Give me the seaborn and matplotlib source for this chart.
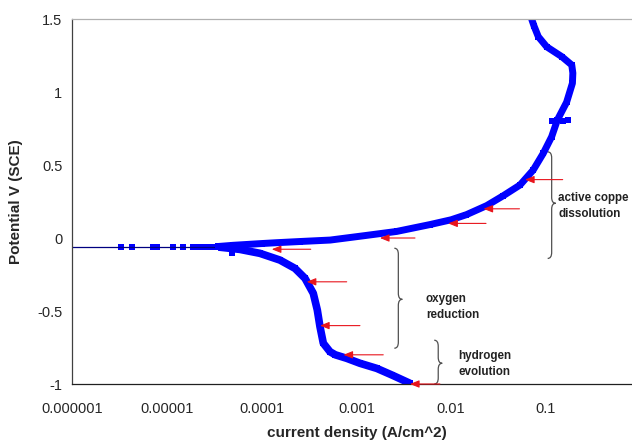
import matplotlib
matplotlib.use("Agg")
import matplotlib.pyplot as plt
from matplotlib.path import Path
from matplotlib.patches import PathPatch
import pandas as pd
import seaborn as sns

# cathodic branch (bottom of the scan up to the corrosion potential)
cath_i = [0.00367, 0.0024, 0.00164, 0.00109, 0.00079, 0.00060, 0.000527, 0.000448,
          0.000413, 0.000387, 0.000351, 0.000287, 0.000225, 0.000156, 0.000096,
          0.000059, 0.000035]
cath_e = [-0.995, -0.94, -0.893, -0.858, -0.824, -0.80, -0.779, -0.721,
          -0.607, -0.493, -0.379, -0.276, -0.208, -0.151, -0.105,
          -0.078, -0.062]

# anodic branch (corrosion potential up to 1.5 V)
anod_i = [0.000035, 0.00005, 0.0001, 0.000145, 0.000254, 0.00053, 0.00118, 0.00266,
          0.00597, 0.0100, 0.0145, 0.0237, 0.0355, 0.0532, 0.0734, 0.0936, 0.1148, 0.1318,
          0.165, 0.19, 0.192, 0.187, 0.147, 0.1016, 0.083, 0.075, 0.0706]
anod_e = [-0.058, -0.05, -0.038, -0.032, -0.024, -0.014, 0.015, 0.045,
          0.092, 0.125, 0.160, 0.222, 0.29, 0.363, 0.466, 0.58, 0.694, 0.808,
          0.93, 1.06, 1.13, 1.185, 1.242, 1.31, 1.379, 1.45, 1.5]

# loose points (low current tail + a few stray ones)
tail_i = [3.27e-6, 4.33e-6, 7.21e-6, 7.94e-6, 1.15e-5, 1.49e-5, 1.9e-5, 2.03e-5,
          2.28e-5, 2.43e-5, 2.64e-5, 2.81e-5, 2.98e-5, 3.15e-5, 3.36e-5, 4.9e-5,
          0.117, 0.15, 0.172]
tail_e = [-0.062, -0.062, -0.062, -0.062, -0.062, -0.062, -0.062, -0.062,
          -0.062, -0.062, -0.062, -0.062, -0.062, -0.062, -0.062, -0.105,
          0.80, 0.80, 0.81]

thin_i = [1e-6, 3.5e-5]
thin_e = [-0.063, -0.063]

# red arrows
arrow_e = [0.4, 0.2, 0.1, 0.0, -0.077, -0.3, -0.6, -0.8, -1.0]
arrow_tip = [0.060, 0.0219, 0.0093, 0.00177, 0.000128, 0.000299, 0.000413, 0.00073, 0.00367]
arrow_tail = [0.15, 0.0525, 0.0233, 0.00415, 0.00033, 0.00079, 0.00109, 0.00192, 0.0076]

# braces and their notes
brace_x = [0.1148, 0.00277, 0.0073]
brace_top = [0.59, -0.07, -0.70]
brace_mid = [0.238, -0.42, -0.858]
brace_bot = [-0.14, -0.755, -1.0]
notes = ["active coppe\ndissolution", "oxygen\nreduction", "hydrogen\nevolution"]
note_x = [0.134, 0.00542, 0.0119]
note_y = [0.222, -0.472, -0.864]

xticks = [1e-6, 1e-5, 1e-4, 1e-3, 1e-2, 1e-1]
xticklabels = ["0.000001", "0.00001", "0.0001", "0.001", "0.01", "0.1"]
yticks = [-1, -0.5, 0, 0.5, 1, 1.5]
yticklabels = ["-1", "-0.5", "0", "0.5", "1", "1.5"]

sns.set_style("white")
plt.rcParams['font.family'] = ['Liberation Sans', 'DejaVu Sans']

fig = plt.figure(figsize=(6.32, 4.42), dpi=100)
ax = fig.add_axes([0.1139, 0.1312, 0.9, 0.8258])

blue = "#0000ff"
sns.lineplot(x=thin_i, y=thin_e, ax=ax, color="#000080", linewidth=0.9, sort=False, estimator=None)
sns.lineplot(x=cath_i, y=cath_e, ax=ax, color=blue, linewidth=5.5, sort=False, estimator=None,
             marker="s", markersize=5, markeredgewidth=0,
             solid_joinstyle="round", solid_capstyle="butt")
sns.lineplot(x=anod_i, y=anod_e, ax=ax, color=blue, linewidth=5.0, sort=False, estimator=None,
             marker="s", markersize=5, markeredgewidth=0,
             solid_joinstyle="round", solid_capstyle="butt")
sns.scatterplot(x=tail_i, y=tail_e, ax=ax, color=blue, marker="s", s=15, linewidth=0)

ax.set_xscale("log")
ax.set_xlim(1e-6, 1)
ax.set_ylim(-1, 1.5)

for e, tip, tail in zip(arrow_e, arrow_tip, arrow_tail):
    ax.annotate("", xy=(tip, e), xytext=(tail, e), annotation_clip=False, zorder=5,
                arrowprops=dict(arrowstyle="-|>,head_length=0.55,head_width=0.22",
                                color="#e8141c", lw=0.8, shrinkA=0, shrinkB=0,
                                mutation_scale=10))

# braces drawn in axes fraction so their width stays a few pixels
to_axes = ax.transData + ax.transAxes.inverted()
wx = 4 / (0.9 * 632)
dy = 6 / (0.8258 * 442)
for bx, bt, bm, bb in zip(brace_x, brace_top, brace_mid, brace_bot):
    x0, yt = to_axes.transform((bx, bt))
    _, ym = to_axes.transform((bx, bm))
    _, yb = to_axes.transform((bx, bb))
    verts = [(x0 - wx, yt), (x0, yt), (x0, yt - dy), (x0, ym + dy), (x0, ym),
             (x0 + wx, ym), (x0, ym), (x0, ym - dy), (x0, yb + dy), (x0, yb), (x0 - wx, yb)]
    codes = [Path.MOVETO, Path.CURVE3, Path.CURVE3, Path.LINETO, Path.CURVE3, Path.CURVE3,
             Path.CURVE3, Path.CURVE3, Path.LINETO, Path.CURVE3, Path.CURVE3]
    ax.add_patch(PathPatch(Path(verts, codes), transform=ax.transAxes, fill=False,
                           edgecolor="#505050", lw=0.9, clip_on=False))

for txt, nx, ny in zip(notes, note_x, note_y):
    ax.text(nx, ny, txt, fontsize=8.4, fontweight="bold", color="#222222",
            ha="left", va="center", linespacing=1.45)

ax.set_xticks(xticks)
ax.set_xticklabels(xticklabels)
ax.minorticks_off()
ax.set_yticks(yticks)
ax.set_yticklabels(yticklabels)
ax.tick_params(axis="x", direction="out", length=4, width=0.8, color="#202020",
               labelsize=10.5, pad=9)
ax.tick_params(axis="y", direction="out", length=4, width=0.8, color="#404040",
               labelsize=10.5, pad=3)

ax.set_xlabel("current density (A/cm^2)", fontsize=11, fontweight="bold", labelpad=7)
ax.set_ylabel("Potential V (SCE)", fontsize=11, fontweight="bold", labelpad=10)

ax.spines["top"].set_color("#b0b0b0")
ax.spines["left"].set_color("#404040")
ax.spines["bottom"].set_color("#202020")
ax.spines["right"].set_visible(False)
for s in ["top", "left", "bottom"]:
    ax.spines[s].set_linewidth(0.9)

plt.savefig("out.png", dpi=100)
